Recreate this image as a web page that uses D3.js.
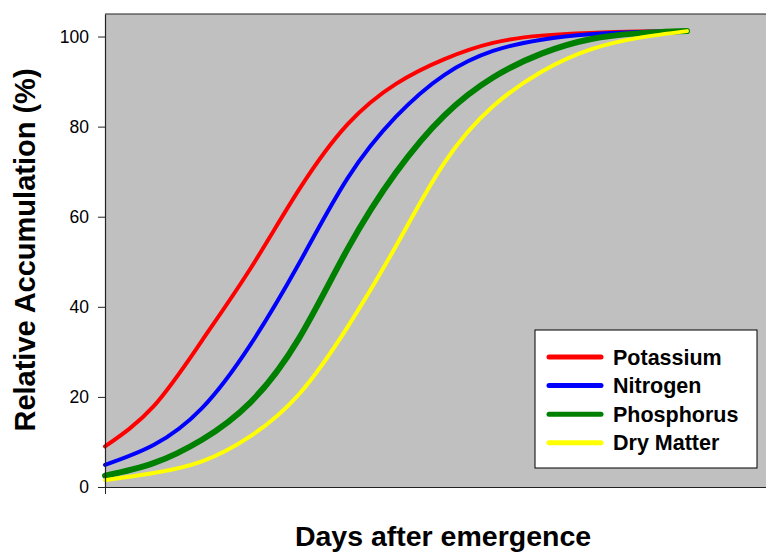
<!DOCTYPE html>
<html>
<head>
<meta charset="utf-8">
<script src="https://cdn.jsdelivr.net/npm/d3@7"></script>
<style>
  body { margin: 0; background: #fff; }
  svg { display: block; font-family: "Liberation Sans", Arial, sans-serif; }
</style>
</head>
<body>
<svg id="chart" width="766" height="552"></svg>
<script>
//Days after emergence at which the curves were read
var days = [0, 10, 20, 30, 40, 50, 60, 70, 80, 90, 100, 110, 120];

//Relative accumulation (%) for each nutrient
var potassium = [9, 17.9, 32.5, 48.5, 66, 80.5, 89.5, 95, 98.6, 100.2, 100.8, 101.1, 101.2];
var nitrogen = [4.9, 9.3, 17.5, 31.6, 49.6, 68.5, 82.2, 91.5, 96.8, 99.3, 100.5, 101, 101.2];
var phosphorus = [2.5, 5.3, 10.5, 18.8, 33, 52.8, 69.8, 82.5, 90.9, 96.2, 99.4, 100.7, 101.2];
var dryMatter = [1.5, 3.1, 5.7, 11.3, 20.6, 35.5, 53.5, 72, 84.5, 92.2, 97.1, 99.7, 101.2];

var seriesNames = ["Potassium", "Nitrogen", "Phosphorus", "Dry Matter"];
var seriesColors = ["#ff0000", "#0000ff", "#008000", "#ffff00"];
var seriesWidths = [4, 4, 6, 4];
var yTicks = [0, 20, 40, 60, 80, 100];

var series = [potassium, nitrogen, phosphorus, dryMatter].map(function(vals, i) {
  return {
    name: seriesNames[i],
    color: seriesColors[i],
    width: seriesWidths[i],
    values: vals.map(function(v, j) { return {day: days[j], value: v}; })
  };
});

var svg = d3.select("#chart"),
    margin = {top: 14, right: -1, bottom: 65, left: 105},
    width = +svg.attr("width") - margin.left - margin.right,
    height = +svg.attr("height") - margin.top - margin.bottom;

var g = svg.append("g").attr("transform", "translate(" + margin.left + "," + margin.top + ")");

var x = d3.scaleLinear().domain([0, 136.5]).range([0, width]);
var y = d3.scaleLinear().domain([0, 105]).range([height, 0]);

//Grey plot area
g.append("rect")
  .attr("width", width)
  .attr("height", height)
  .attr("fill", "#c0c0c0");

//Top border
g.append("line")
  .attr("x1", 0).attr("x2", width)
  .attr("y1", 0).attr("y2", 0)
  .attr("stroke", "#222")
  .attr("stroke-width", 1.2);

//Curves (smooth spline through the read points)
var line = d3.line()
  .x(function(d) { return x(d.day); })
  .y(function(d) { return y(d.value); })
  .curve(d3.curveNatural);

g.append("g")
  .selectAll("path")
  .data(series)
  .enter().append("path")
  .attr("d", function(d) { return line(d.values); })
  .attr("fill", "none")
  .attr("stroke", function(d) { return d.color; })
  .attr("stroke-width", function(d) { return d.width; })
  .attr("stroke-linecap", "round")
  .attr("stroke-linejoin", "round");

//Y axis
var yAxis = g.append("g")
  .call(d3.axisLeft(y).tickValues(yTicks).tickSize(7).tickPadding(9).tickSizeOuter(0));
yAxis.selectAll("text")
  .attr("font-size", 17.5)
  .attr("font-family", "'Liberation Sans', Arial, sans-serif")
  .attr("fill", "#000");
yAxis.select(".domain").attr("stroke", "#222").attr("stroke-width", 1.2);
yAxis.selectAll(".tick line").attr("stroke", "#222");

//X axis, a single tick at the origin and no labels
var xAxis = g.append("g")
  .attr("transform", "translate(0," + height + ")")
  .call(d3.axisBottom(x).tickValues([0]).tickFormat("").tickSize(7).tickSizeOuter(0));
xAxis.select(".domain").attr("stroke", "#222").attr("stroke-width", 1.2);
xAxis.selectAll(".tick line").attr("stroke", "#222");

//Axis titles
svg.append("text")
  .attr("transform", "translate(35,250) rotate(-90)")
  .attr("text-anchor", "middle")
  .attr("font-size", 29)
  .attr("font-weight", "bold")
  .text("Relative Accumulation (%)");

svg.append("text")
  .attr("x", 443)
  .attr("y", 546)
  .attr("text-anchor", "middle")
  .attr("font-size", 28.5)
  .attr("font-weight", "bold")
  .text("Days after emergence");

//Legend
var legend = svg.append("g").attr("transform", "translate(535,330)");

legend.append("rect")
  .attr("width", 222)
  .attr("height", 138)
  .attr("fill", "#fff")
  .attr("stroke", "#000")
  .attr("stroke-width", 1);

var item = legend.selectAll("g")
  .data(series)
  .enter().append("g")
  .attr("transform", function(d, i) { return "translate(0," + (27 + i * 28.6) + ")"; });

item.append("line")
  .attr("x1", 14).attr("x2", 66)
  .attr("stroke", function(d) { return d.color; })
  .attr("stroke-width", 5)
  .attr("stroke-linecap", "round");

item.append("text")
  .attr("x", 78)
  .attr("dy", "0.35em")
  .attr("font-size", 21.5)
  .attr("font-weight", "bold")
  .text(function(d) { return d.name; });
</script>
</body>
</html>
